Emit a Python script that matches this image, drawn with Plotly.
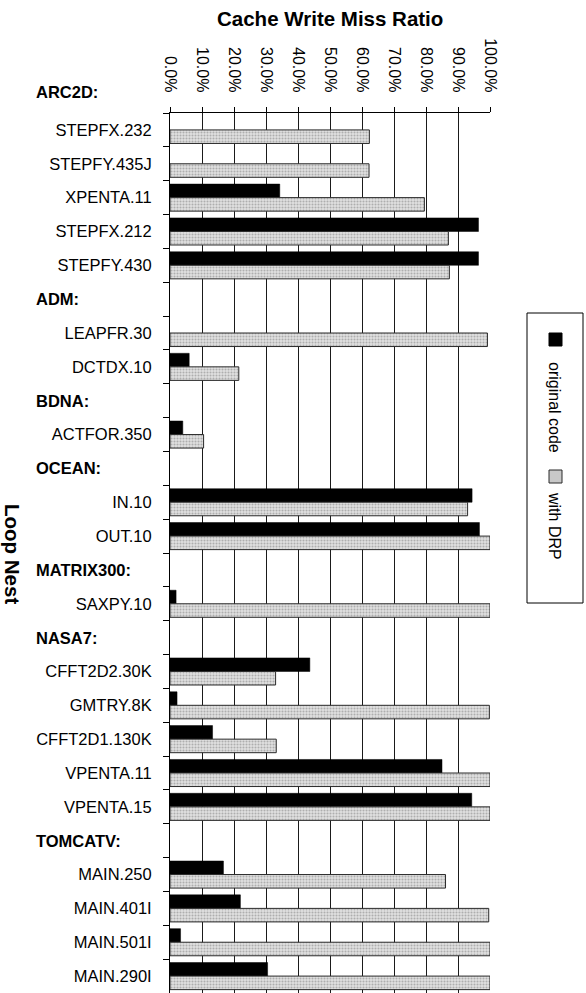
import plotly.graph_objects as go

# Rows of the chart, top to bottom. Group headers ("ADM:" etc.) are empty rows.
categories = [
    "STEPFX.232", "STEPFY.435J", "XPENTA.11", "STEPFX.212", "STEPFY.430",
    "ADM:", "LEAPFR.30", "DCTDX.10",
    "BDNA:", "ACTFOR.350",
    "OCEAN:", "IN.10", "OUT.10",
    "MATRIX300:", "SAXPY.10",
    "NASA7:", "CFFT2D2.30K", "GMTRY.8K", "CFFT2D1.130K", "VPENTA.11", "VPENTA.15",
    "TOMCATV:", "MAIN.250", "MAIN.401I", "MAIN.501I", "MAIN.290I",
]
group_headers = ["ADM:", "BDNA:", "OCEAN:", "MATRIX300:", "NASA7:", "TOMCATV:"]
first_header = "ARC2D:"

# Cache write miss ratio (%)
original_code = [
    None, None, 34.3, 96.4, 96.4,
    None, None, 6.0,
    None, 4.0,
    None, 94.4, 96.7,
    None, 1.9,
    None, 43.7, 2.2, 13.3, 85.0, 94.3,
    None, 16.7, 22.0, 3.3, 30.5,
]
with_drp = [
    62.3, 62.2, 79.5, 87.0, 87.3,
    None, 99.2, 21.5,
    None, 10.5,
    None, 93.0, 100.0,
    None, 100.0,
    None, 33.0, 99.8, 33.2, 100.0, 100.0,
    None, 86.1, 99.6, 100.0, 100.0,
]

x_ticks = [0, 10, 20, 30, 40, 50, 60, 70, 80, 90, 100]
x_ticktext = [f"{v:.1f}%" for v in x_ticks]
y_ticktext = ["" if c in group_headers else c for c in categories]

W, H = 586, 993
L, R, T, B = 170, 96, 113, 0
FONT = "Liberation Sans, Arial, sans-serif"


def px_x(px):
    return (px - L) / (W - L - R)


def px_y(py):
    return (H - B - py) / (H - T - B)


fig = go.Figure()
fig.add_trace(go.Bar(
    name="original code", y=categories, x=original_code, orientation="h",
    marker=dict(color="#000000", line=dict(color="#000000", width=0.5)),
    showlegend=False,
))
fig.add_trace(go.Bar(
    name="with DRP", y=categories, x=with_drp, orientation="h",
    marker=dict(
        color="#e2e2e2",
        line=dict(color="#2a2a2a", width=1),
        pattern=dict(shape=".", fgcolor="#7a7a7a", bgcolor="#e2e2e2",
                     size=3, solidity=0.4, fillmode="overlay"),
    ),
    showlegend=False,
))

fig.update_layout(
    width=W, height=H,
    margin=dict(l=L, r=R, t=T, b=B, pad=0),
    paper_bgcolor="white", plot_bgcolor="white",
    barmode="group", bargap=0.2, bargroupgap=0,
    font=dict(family=FONT, size=16, color="#000000"),
    showlegend=False,
    xaxis=dict(
        side="top", range=[0, 100], tickmode="array",
        tickvals=x_ticks, ticktext=x_ticktext, tickangle=90,
        ticks="outside", ticklen=5, tickcolor="#000000",
        ticklabelstandoff=9,
        showline=True, linecolor="#000000", linewidth=1,
        showgrid=True, gridcolor="#1a1a1a", gridwidth=1,
        zeroline=False, tickfont=dict(size=16),
    ),
    yaxis=dict(
        type="category", categoryorder="array", categoryarray=categories,
        autorange="reversed", tickmode="array",
        tickvals=categories, ticktext=y_ticktext,
        tickson="boundaries", ticks="outside", ticklen=6, tickcolor="#000000",
        ticklabelstandoff=14,
        showline=True, linecolor="#000000", linewidth=1,
        showgrid=False, zeroline=False, tickfont=dict(size=16.5),
    ),
)

annotations = []
# chart title
annotations.append(dict(
    text="<b>Cache Write Miss Ratio</b>", x=px_x(330), y=px_y(18),
    xref="paper", yref="paper", showarrow=False,
    xanchor="center", yanchor="middle", font=dict(size=20.5),
))
# axis title, rotated
annotations.append(dict(
    text="<b>Loop Nest</b>", x=px_x(13), y=px_y(554),
    xref="paper", yref="paper", showarrow=False, textangle=90,
    xanchor="center", yanchor="middle", font=dict(size=20.5),
))
# group headers
annotations.append(dict(
    text=f"<b>{first_header}</b>", x=px_x(34), y=px_y(92),
    xref="paper", yref="paper", showarrow=False,
    xanchor="left", yanchor="middle", font=dict(size=16.5),
))
for h in group_headers:
    annotations.append(dict(
        text=f"<b>{h}</b>", x=px_x(34), y=h,
        xref="paper", yref="y", showarrow=False,
        xanchor="left", yanchor="middle", font=dict(size=16.5),
    ))
# legend text, rotated
annotations.append(dict(
    text="original code", x=px_x(555), y=px_y(407),
    xref="paper", yref="paper", showarrow=False, textangle=90,
    xanchor="center", yanchor="middle", font=dict(size=16),
))
annotations.append(dict(
    text="with DRP", x=px_x(555), y=px_y(526),
    xref="paper", yref="paper", showarrow=False, textangle=90,
    xanchor="center", yanchor="middle", font=dict(size=16),
))
fig.update_layout(annotations=annotations)

shapes = [
    # legend frame
    dict(type="rect", xref="paper", yref="paper",
         x0=px_x(527), x1=px_x(583), y0=px_y(313), y1=px_y(603),
         line=dict(color="#000000", width=1), fillcolor="rgba(0,0,0,0)"),
    # legend swatches
    dict(type="rect", xref="paper", yref="paper",
         x0=px_x(549), x1=px_x(562), y0=px_y(333), y1=px_y(346),
         line=dict(color="#000000", width=1), fillcolor="#000000"),
    dict(type="rect", xref="paper", yref="paper",
         x0=px_x(549), x1=px_x(562), y0=px_y(470), y1=px_y(483),
         line=dict(color="#2a2a2a", width=1), fillcolor="#c8c8c8"),
]
fig.update_layout(shapes=shapes)

fig.write_html("out.html")
